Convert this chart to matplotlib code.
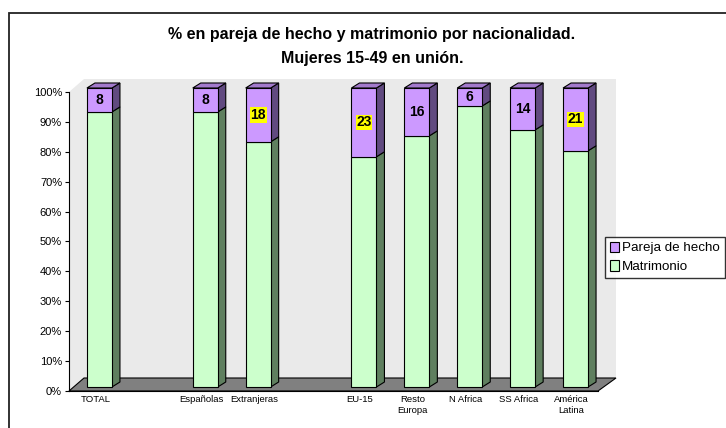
import matplotlib.pyplot as plt
from matplotlib.patches import Polygon, Rectangle, Patch
import numpy as np

# data (slots 1 and 4 are empty gaps)
categories = ["TOTAL", "", "Españolas", "Extranjeras", "", "EU-15",
              "Resto\nEuropa", "N Africa", "SS Africa", "América\nLatina"]
pareja = [8, None, 8, 18, None, 23, 16, 6, 14, 21]
highlight = [False, False, False, True, False, True, False, False, False, True]
y_ticks = list(range(0, 101, 10))

# style
plt.rcParams['font.family'] = ['Liberation Sans', 'DejaVu Sans']
green_face, green_side = "#CCFFCC", "#5F7F5F"
purple_face, purple_side, purple_top = "#CC99FF", "#614A80", "#A37ACC"

fig = plt.figure(figsize=(7.26, 4.28), dpi=100)
ax = fig.add_axes([69/726, 1-391/428, (598-69)/726, (391-92)/428])
ax.set_xlim(-0.5, len(categories)-0.5)
ax.set_ylim(0, 100)

# pixel -> data conversion helpers for the pseudo-3D offsets
px_x = (len(categories))/(598-69)
px_y = 100/(391-92)
wall_dx, wall_dy = 15*px_x, 13*px_y
off_x, off_y = 4*px_x, 4*px_y
dep_x, dep_y = 8*px_x, 5*px_y
bw = 25*px_x

x0, x1 = -0.5, len(categories)-0.5
# side wall, back wall, floor
ax.add_patch(Polygon([(x0, 0), (x0, 100), (x0+wall_dx, 100+wall_dy), (x0+wall_dx, wall_dy)],
                     closed=True, facecolor="#EAEAEA", edgecolor="none", clip_on=False, zorder=0))
ax.add_patch(Polygon([(x0+wall_dx, wall_dy), (x0+wall_dx, 100+wall_dy), (x1+wall_dx*1.2, 100+wall_dy), (x1+wall_dx*1.2, wall_dy)],
                     closed=True, facecolor="#EAEAEA", edgecolor="none", clip_on=False, zorder=0))
ax.add_patch(Polygon([(x0, 0), (x0+wall_dx, wall_dy), (x1+wall_dx*1.2, wall_dy), (x1, 0)],
                     closed=True, facecolor="#808080", edgecolor="black", lw=0.8, clip_on=False, zorder=1))

def box3d(xc, bottom, top, face, side, topc=None):
    xl = xc - bw/2 + off_x
    xr = xc + bw/2 + off_x
    b = bottom + off_y
    t = top + off_y
    ax.add_patch(Polygon([(xr, b), (xr+dep_x, b+dep_y), (xr+dep_x, t+dep_y), (xr, t)],
                         closed=True, facecolor=side, edgecolor="black", lw=0.8, clip_on=False, zorder=3))
    ax.add_patch(Rectangle((xl, b), bw, t-b, facecolor=face, edgecolor="black", lw=0.8, clip_on=False, zorder=3))
    if topc is not None:
        ax.add_patch(Polygon([(xl, t), (xl+dep_x, t+dep_y), (xr+dep_x, t+dep_y), (xr, t)],
                             closed=True, facecolor=topc, edgecolor="black", lw=0.8, clip_on=False, zorder=3))
    return xl, xr, b, t

for i, p in enumerate(pareja):
    if p is None:
        continue
    matr = 100 - p
    box3d(i, 0, matr, green_face, green_side)
    xl, xr, b, t = box3d(i, matr, 100, purple_face, purple_side, purple_top)
    bb = dict(facecolor="yellow", edgecolor="none", pad=0.5) if highlight[i] else None
    ax.text((xl+xr)/2, (b+t)/2, str(p), ha="center", va="center", fontsize=10,
            fontweight="bold", zorder=5, bbox=bb)

# axes styling
for s in ["top", "right", "bottom"]:
    ax.spines[s].set_visible(False)
ax.spines["left"].set_linewidth(0.8)
ax.axhline(0, color="black", lw=0.8, zorder=2, clip_on=False)
ax.patch.set_visible(False)
ax.set_yticks(y_ticks)
ax.set_yticklabels([f"{v}%" for v in y_ticks], fontsize=8)
ax.tick_params(axis="y", length=3, width=0.8, pad=2)
ax.set_xticks(range(len(categories)))
ax.set_xticklabels(categories, fontsize=6.8, linespacing=1.3)
ax.tick_params(axis="x", length=0, pad=3)

fig.suptitle("% en pareja de hecho y matrimonio por nacionalidad.\nMujeres 15-49 en unión.",
             x=372/726, y=1-27/428, fontsize=11.5, fontweight="bold", linespacing=1.75)

handles = [Patch(facecolor=purple_face, edgecolor="black", lw=0.8, label="Pareja de hecho"),
           Patch(facecolor=green_face, edgecolor="black", lw=0.8, label="Matrimonio")]
fig.legend(handles=handles, loc="upper left", bbox_to_anchor=(605/726, 1-237/428),
           fontsize=9.6, frameon=True, fancybox=False, edgecolor="black", handlelength=0.7,
           handleheight=0.8, handletextpad=0.25, borderpad=0.35, labelspacing=0.45, borderaxespad=0)

# outer chart frame (runs off the right and bottom edge)
fig.patches.append(Rectangle((9/726, -0.1), 1.2, 1-13/428+0.1, transform=fig.transFigure,
                             facecolor="none", edgecolor="#222222", lw=1.3))

fig.savefig("out.png", dpi=100)
